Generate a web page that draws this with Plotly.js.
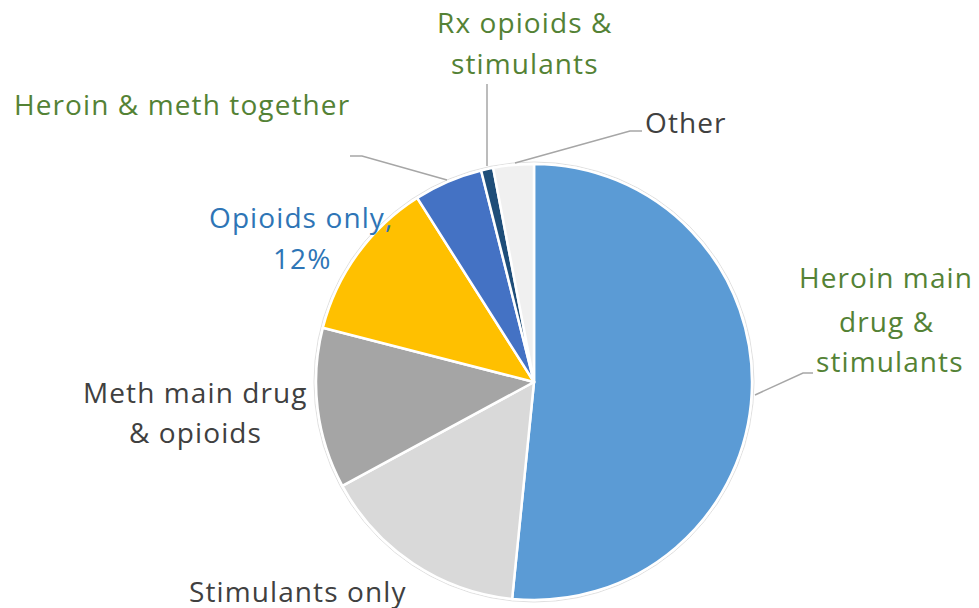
<!DOCTYPE html>
<html>
<head>
<meta charset="utf-8">
<script src="https://cdn.plot.ly/plotly-3.0.1.min.js"></script>
<style>
html,body{margin:0;padding:0;background:#fff;}
#chart{width:979px;height:608px;}
svg text{letter-spacing:1.1px;}
</style>
</head>
<body>
<div id="chart"></div>
<script>
// ---- data ----
const categories = [
  "Heroin main drug & stimulants",
  "Stimulants only",
  "Meth main drug & opioids",
  "Opioids only",
  "Heroin & meth together",
  "Rx opioids & stimulants",
  "Other"
];
const shares = [51.6, 15.5, 11.9, 12.0, 5.1, 0.9, 3.0];
const sliceColors = ["#5B9BD5", "#D9D9D9", "#A5A5A5", "#FFC000", "#4472C4", "#1F4E79", "#F0F0F0"];

// ---- layout helpers (pixel -> paper) ----
const W = 979, H = 608;
const px = x => x / W;
const py = y => 1 - y / H;
const cx = 534, cy = 382, r = 218;

const green = "#548235", gray = "#404040", blue = "#2E75B6";
const FONT = "Open Sans, sans-serif";
const FS = 28;

function lab(text, x, y, color) {
  return {text: text, x: px(x), y: py(y), xref: "paper", yref: "paper",
    xanchor: "center", yanchor: "middle", showarrow: false,
    font: {family: FONT, size: FS, color: color}};
}
function path(pts) {
  return {type: "path", xref: "paper", yref: "paper",
    path: pts.map((p, i) => (i ? "L" : "M") + px(p[0]) + "," + py(p[1])).join(" "),
    line: {color: "#A6A6A6", width: 1.5}};
}

const ring = {
  type: "pie", values: [1], labels: ["ring"], sort: false,
  marker: {colors: ["rgba(0,0,0,0)"], line: {color: "#E0E0E0", width: 1}},
  textinfo: "none", hoverinfo: "skip", showlegend: false,
  domain: {x: [px(cx - r - 2), px(cx + r + 2)], y: [py(cy + r + 2), py(cy - r - 2)]}
};

const pie = {
  type: "pie", labels: categories, values: shares, sort: false,
  direction: "clockwise", rotation: 0,
  marker: {colors: sliceColors, line: {color: "#FFFFFF", width: 2.5}},
  textinfo: "none", hoverinfo: "label+percent", showlegend: false,
  domain: {x: [px(cx - r), px(cx + r)], y: [py(cy + r), py(cy - r)]}
};

const layout = {
  width: W, height: H,
  margin: {l: 0, r: 0, t: 0, b: 0},
  paper_bgcolor: "#FFFFFF",
  showlegend: false,
  annotations: [
    lab("Heroin main", 886, 277, green),
    lab("drug &", 886, 321, green),
    lab("stimulants", 890, 361, green),
    lab("Rx opioids &", 525, 22, green),
    lab("stimulants", 525, 63, green),
    lab("Other", 686, 122, gray),
    lab("Heroin & meth together", 182, 104, green),
    lab("Opioids only,", 301, 217, blue),
    lab("12%", 302, 258, blue),
    lab("Meth main drug", 195, 392, gray),
    lab("& opioids", 195, 432, gray),
    lab("Stimulants only", 298, 591, gray)
  ],
  shapes: [
    path([[755, 395], [803, 373], [813, 373]]),
    path([[487, 84], [487, 166]]),
    path([[515, 163], [630, 131], [642, 131]]),
    path([[350, 156], [362, 156], [447, 180]])
  ]
};

Plotly.newPlot("chart", [ring, pie], layout, {staticPlot: true, displayModeBar: false});
</script>
</body>
</html>
